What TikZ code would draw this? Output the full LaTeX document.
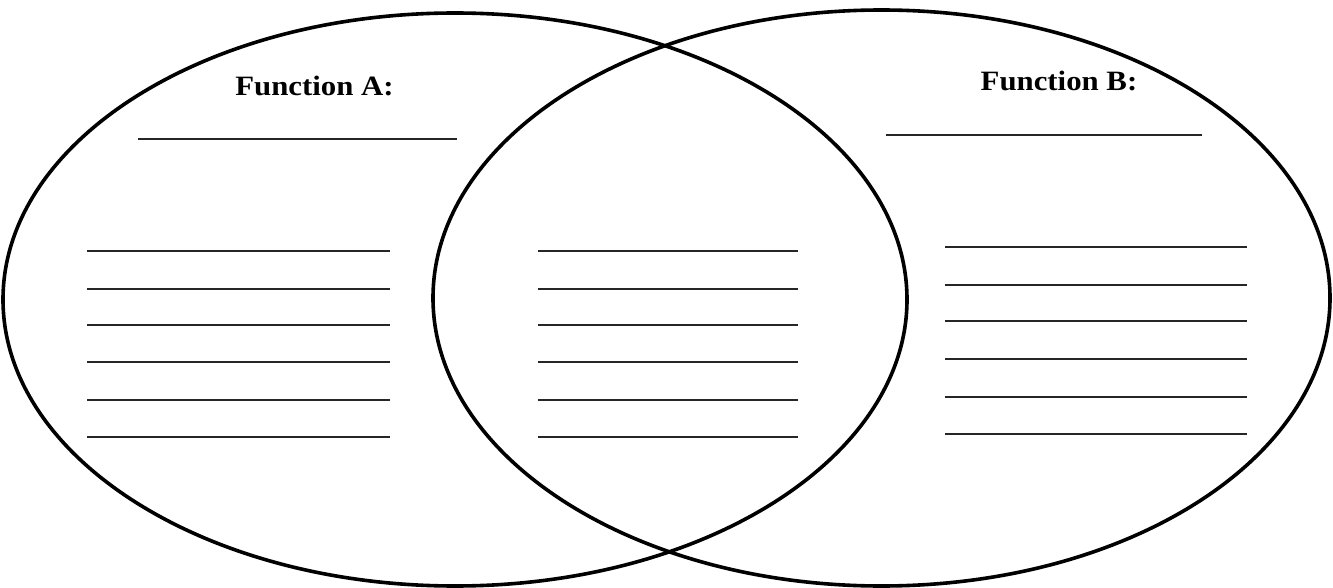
\documentclass[tikz,border=0pt]{standalone}
\usepackage{fontspec}
\setmainfont{Liberation Serif}
\newfontfamily\titlefont[FakeStretch=1.1]{Liberation Serif}
\begin{document}
\begin{tikzpicture}[x=1pt,y=-1pt,
  ring/.style={line width=3.6pt,draw=black},
  blank/.style={line width=1.3pt,draw=black!85},
  title/.style={font=\titlefont\fontsize{28}{32}\selectfont\bfseries,inner sep=0pt,anchor=base}]
\useasboundingbox (0,0) rectangle (1333,588);
\fill[white] (0,0) rectangle (1333,588);
\coordinate (cA) at (455,299.5);
\coordinate (cB) at (881.5,298);
\draw[ring] (cA) ellipse [x radius=452, y radius=286.5];
\draw[ring] (cB) ellipse [x radius=448.5, y radius=288];
\node[title] (tA) at (314.5,95.5) {Function A:};
\node[title] (tB) at (1059,91) {Function B:};
% title lines
\coordinate (a0l) at (138,139); \coordinate (a0r) at (457,139);
\draw[blank] (a0l) -- (a0r);
\coordinate (b0l) at (886,135); \coordinate (b0r) at (1202,135);
\draw[blank] (b0l) -- (b0r);
% left and middle lines
\foreach \y [count=\i] in {251,289,325,362,400,437} {
  \coordinate (al\i) at (87,\y); \coordinate (ar\i) at (390,\y);
  \draw[blank] (al\i) -- (ar\i);
  \coordinate (ml\i) at (538,\y); \coordinate (mr\i) at (798,\y);
  \draw[blank] (ml\i) -- (mr\i);
}
% right lines
\foreach \y [count=\i] in {247,285,321,359,397,434} {
  \coordinate (bl\i) at (945,\y); \coordinate (br\i) at (1247,\y);
  \draw[blank] (bl\i) -- (br\i);
}
\end{tikzpicture}
\end{document}
